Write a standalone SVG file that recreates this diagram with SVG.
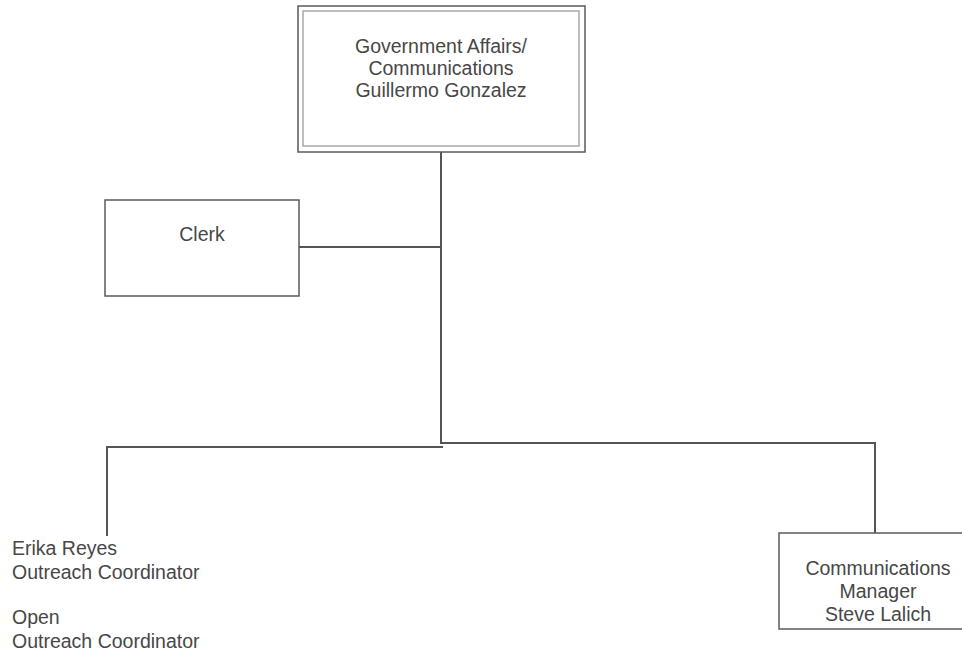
<svg xmlns="http://www.w3.org/2000/svg" width="962" height="658" viewBox="0 0 962 658">
  <style>
    text { font-family: "Liberation Sans", Arial, sans-serif; font-size: 19.5px; fill: #474747; }
    .c { text-anchor: middle; }
    .box { fill: #ffffff; stroke: #5a5a5a; stroke-width: 1.5; }
    .inner { fill: none; stroke: #a8a8a8; stroke-width: 1.5; }
    .wire { fill: none; stroke: #555555; stroke-width: 2; }
  </style>
  <rect width="962" height="658" fill="#ffffff"/>

  <!-- reporting lines -->
  <g id="connectors">
    <path class="wire" d="M441,152 V443 H875 V533"/>
    <path class="wire" d="M299,247 H441"/>
    <path class="wire" d="M443,447 H107 V536"/>
  </g>

  <g id="director">
    <rect class="box" x="298" y="6" width="287" height="146" stroke-width="2"/>
    <rect class="inner" x="303" y="11" width="276" height="135"/>
    <text class="c" x="441" y="53">Government Affairs/</text>
    <text class="c" x="441" y="75">Communications</text>
    <text class="c" x="441" y="97">Guillermo Gonzalez</text>
  </g>

  <g id="clerk">
    <rect class="box" x="105" y="200" width="194" height="96"/>
    <text class="c" x="202" y="241">Clerk</text>
  </g>

  <g id="outreach">
    <text x="12" y="555">Erika Reyes</text>
    <text x="12" y="579">Outreach Coordinator</text>
    <text x="12" y="624">Open</text>
    <text x="12" y="648">Outreach Coordinator</text>
  </g>

  <g id="comms-manager">
    <rect class="box" x="779" y="533" width="190" height="96"/>
    <text class="c" x="878" y="575">Communications</text>
    <text class="c" x="878" y="598">Manager</text>
    <text class="c" x="878" y="621">Steve Lalich</text>
  </g>
</svg>
